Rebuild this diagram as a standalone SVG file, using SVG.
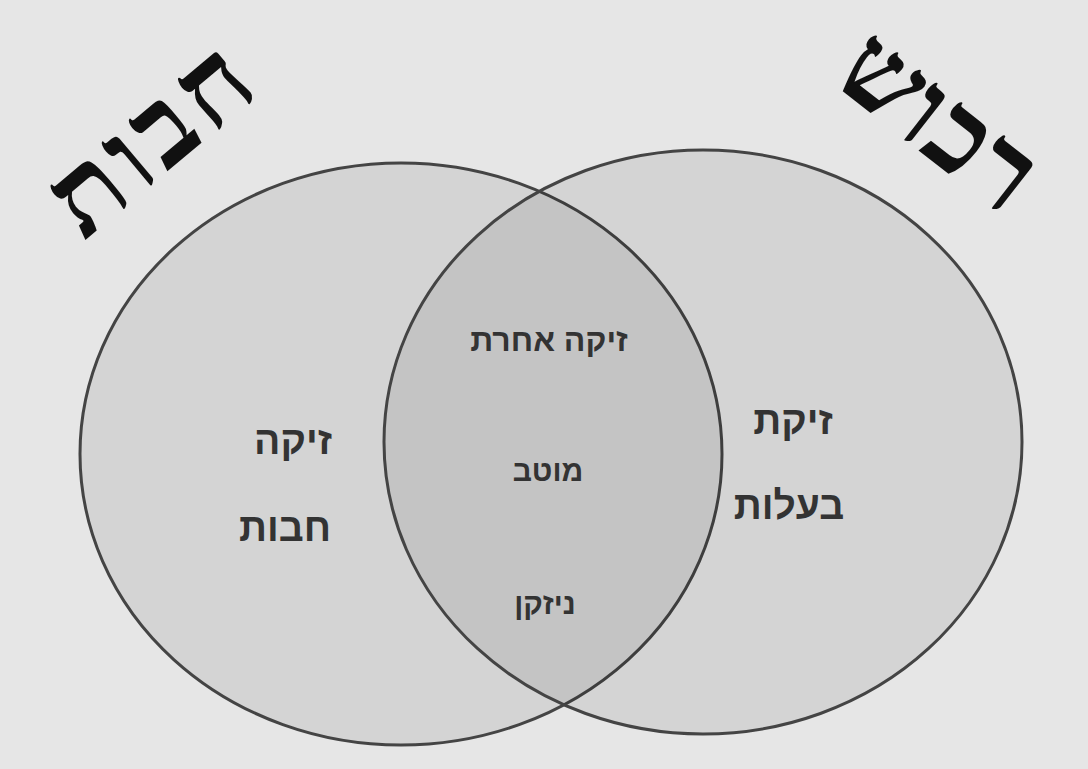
<svg xmlns="http://www.w3.org/2000/svg" width="1088" height="769" viewBox="0 0 1088 769">
<style>
.set{fill:#000;fill-opacity:0.075;stroke:#444;stroke-width:3}
.title{font-family:"Liberation Serif","DejaVu Serif",serif;font-weight:bold;font-size:110px;fill:#111}
.lbl{font-family:"Liberation Sans","DejaVu Sans",sans-serif;font-weight:bold;fill:#333;text-anchor:middle}
</style>
<rect width="1088" height="769" fill="#e6e6e6"/>
<g id="set-left">
<ellipse class="set" cx="401" cy="454" rx="321" ry="291"/>
<text class="title" transform="translate(175,165) rotate(-40)" text-anchor="middle" direction="rtl" letter-spacing="6">חבות</text>
<text class="lbl" x="293" y="454" font-size="39" direction="rtl">זיקה</text>
<text class="lbl" x="285" y="541" font-size="39" direction="rtl">חבות</text>
</g>
<g id="set-right">
<ellipse class="set" cx="703" cy="442" rx="319" ry="292"/>
<text class="title" transform="translate(918,150) rotate(38)" text-anchor="middle" direction="rtl" letter-spacing="2">רכוש</text>
<text class="lbl" x="793" y="434" font-size="39" direction="rtl">זיקת</text>
<text class="lbl" x="789" y="519" font-size="39" direction="rtl">בעלות</text>
</g>
<g id="overlap">
<text class="lbl" x="549" y="351" font-size="32" direction="rtl">זיקה אחרת</text>
<text class="lbl" x="548" y="481" font-size="30" direction="rtl">מוטב</text>
<text class="lbl" x="545" y="614" font-size="30" direction="rtl">ניזקן</text>
</g>
<g id="connectors"></g>
</svg>
